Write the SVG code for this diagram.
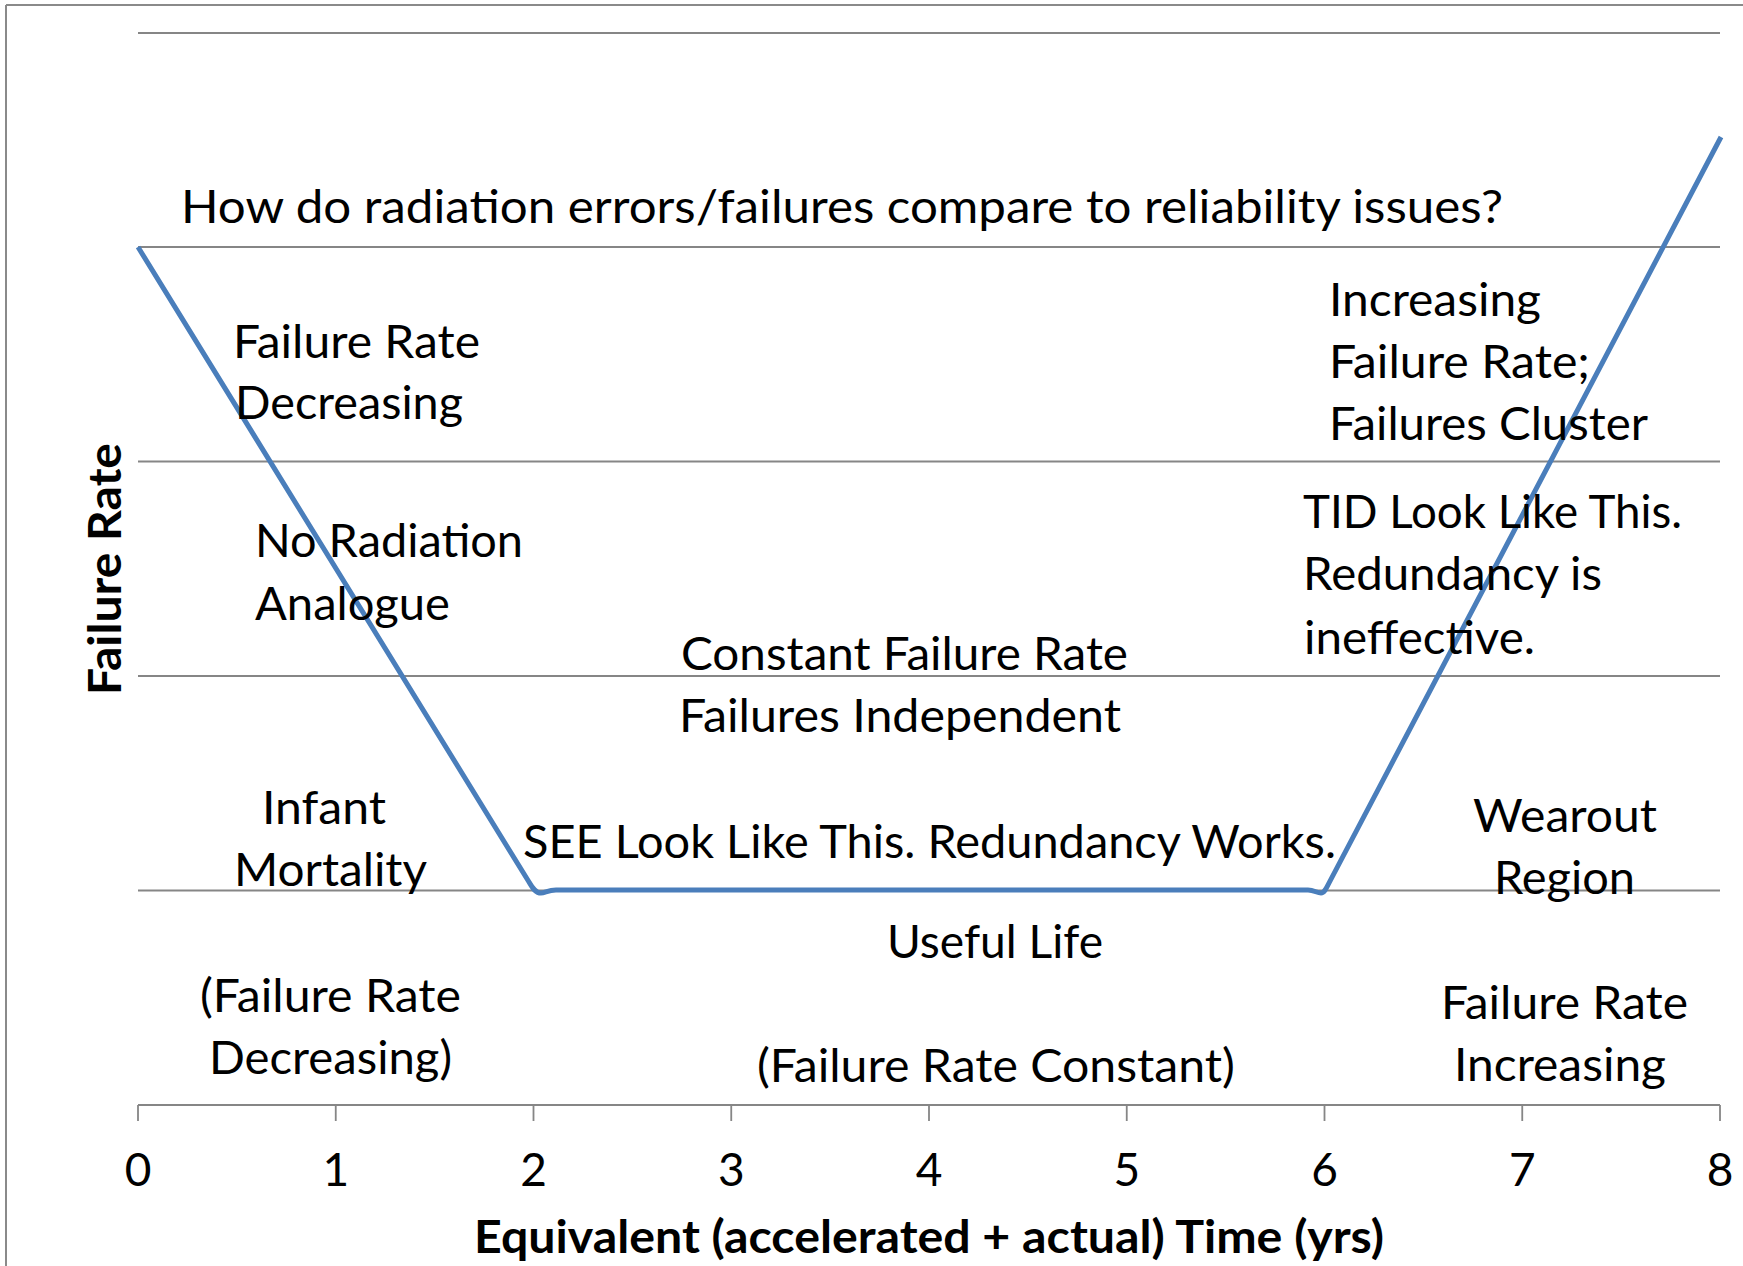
<svg xmlns="http://www.w3.org/2000/svg" width="1743" height="1266" viewBox="0 0 1743 1266">
  <style>
    .grid { stroke: #868686; stroke-width: 1.8; fill: none; }
    .frame { stroke: #8a8a8a; stroke-width: 2; fill: none; }
    .curve { stroke: #4A7EBB; stroke-width: 5; fill: none; stroke-linejoin: round; stroke-linecap: butt; }
    text { font-family: Lato, "Open Sans", "Liberation Sans", sans-serif; font-size: 46px; fill: #000; }
    .bold { font-weight: bold; }
    .tick { text-anchor: middle; }
  </style>
  <rect width="1743" height="1266" fill="#fff"/>

  <!-- chart frame (top and left edges visible) -->
  <g id="frame">
    <line class="frame" x1="6" y1="5" x2="1743" y2="5"/>
    <line class="frame" x1="6" y1="5" x2="6" y2="1266"/>
  </g>

  <!-- horizontal gridlines -->
  <g id="gridlines">
    <line class="grid" x1="138" y1="33" x2="1720" y2="33"/>
    <line class="grid" x1="138" y1="247" x2="1720" y2="247"/>
    <line class="grid" x1="138" y1="461.5" x2="1720" y2="461.5"/>
    <line class="grid" x1="138" y1="676" x2="1720" y2="676"/>
    <line class="grid" x1="138" y1="890.5" x2="1720" y2="890.5"/>
  </g>

  <!-- x axis with ticks -->
  <g id="x-axis">
    <line class="grid" x1="138" y1="1105" x2="1720" y2="1105"/>
    <path class="grid" d="M138,1105V1121 M335.75,1105V1121 M533.5,1105V1121 M731.25,1105V1121 M929,1105V1121 M1126.75,1105V1121 M1324.5,1105V1121 M1522.25,1105V1121 M1720,1105V1121"/>
    <text class="tick" x="138" y="1186">0</text>
    <text class="tick" x="335.75" y="1186">1</text>
    <text class="tick" x="533.5" y="1186">2</text>
    <text class="tick" x="731.25" y="1186">3</text>
    <text class="tick" x="929" y="1186">4</text>
    <text class="tick" x="1126.75" y="1186">5</text>
    <text class="tick" x="1324.5" y="1186">6</text>
    <text class="tick" x="1522.25" y="1186">7</text>
    <text class="tick" x="1720" y="1186">8</text>
    <text id="x-title" class="bold" x="474" y="1253" textLength="910" lengthAdjust="spacingAndGlyphs">Equivalent (accelerated + actual) Time (yrs)</text>
  </g>

  <!-- y axis title -->
  <g id="y-title">
    <text class="bold" transform="translate(121,569) rotate(-90)" text-anchor="middle" textLength="252" lengthAdjust="spacingAndGlyphs">Failure Rate</text>
  </g>

  <!-- bathtub curve -->
  <g id="connectors">
    <path class="curve" d="M138,247 L529,882 C533,889 536,893 541,893 C545,893 548,890 556,890 L1308,890 C1314,890 1317,893 1321,893 C1324,893 1326,889 1329,883 L1721,137"/>
  </g>

  <!-- annotations -->
  <g id="title">
    <text x="181" y="223" textLength="1322" lengthAdjust="spacingAndGlyphs">How do radiation errors/failures compare to reliability issues?</text>
  </g>

  <g id="early-rate">
    <text x="233" y="358" textLength="247" lengthAdjust="spacingAndGlyphs">Failure Rate</text>
    <text x="235" y="419" textLength="228" lengthAdjust="spacingAndGlyphs">Decreasing</text>
  </g>

  <g id="no-analogue">
    <text x="255" y="557" textLength="268" lengthAdjust="spacingAndGlyphs">No Radiation</text>
    <text x="255" y="620" textLength="195" lengthAdjust="spacingAndGlyphs">Analogue</text>
  </g>

  <g id="infant-mortality">
    <text x="262" y="824" textLength="124" lengthAdjust="spacingAndGlyphs">Infant</text>
    <text x="234" y="886" textLength="193" lengthAdjust="spacingAndGlyphs">Mortality</text>
  </g>

  <g id="infant-rate">
    <text x="200" y="1012" textLength="261" lengthAdjust="spacingAndGlyphs">(Failure Rate</text>
    <text x="209" y="1074" textLength="243" lengthAdjust="spacingAndGlyphs">Decreasing)</text>
  </g>

  <g id="constant-rate">
    <text x="681" y="670" textLength="447" lengthAdjust="spacingAndGlyphs">Constant Failure Rate</text>
    <text x="679" y="732" textLength="442" lengthAdjust="spacingAndGlyphs">Failures Independent</text>
  </g>

  <g id="see-note">
    <text x="523" y="858" textLength="813" lengthAdjust="spacingAndGlyphs">SEE Look Like This. Redundancy Works.</text>
  </g>

  <g id="useful-life">
    <text x="887" y="958" textLength="216" lengthAdjust="spacingAndGlyphs">Useful Life</text>
    <text x="757" y="1082" textLength="478" lengthAdjust="spacingAndGlyphs">(Failure Rate Constant)</text>
  </g>

  <g id="increasing-rate">
    <text x="1329" y="316" textLength="212" lengthAdjust="spacingAndGlyphs">Increasing</text>
    <text x="1329" y="378" textLength="261" lengthAdjust="spacingAndGlyphs">Failure Rate;</text>
    <text x="1329" y="440" textLength="319" lengthAdjust="spacingAndGlyphs">Failures Cluster</text>
  </g>

  <g id="tid-note">
    <text x="1303" y="528" textLength="379" lengthAdjust="spacingAndGlyphs">TID Look Like This.</text>
    <text x="1303" y="590" textLength="299" lengthAdjust="spacingAndGlyphs">Redundancy is</text>
    <text x="1304" y="654" textLength="231" lengthAdjust="spacingAndGlyphs">ineffective.</text>
  </g>

  <g id="wearout">
    <text x="1473" y="832" textLength="184" lengthAdjust="spacingAndGlyphs">Wearout</text>
    <text x="1494" y="894" textLength="141" lengthAdjust="spacingAndGlyphs">Region</text>
  </g>

  <g id="wearout-rate">
    <text x="1441" y="1019" textLength="247" lengthAdjust="spacingAndGlyphs">Failure Rate</text>
    <text x="1454" y="1081" textLength="212" lengthAdjust="spacingAndGlyphs">Increasing</text>
  </g>
</svg>
